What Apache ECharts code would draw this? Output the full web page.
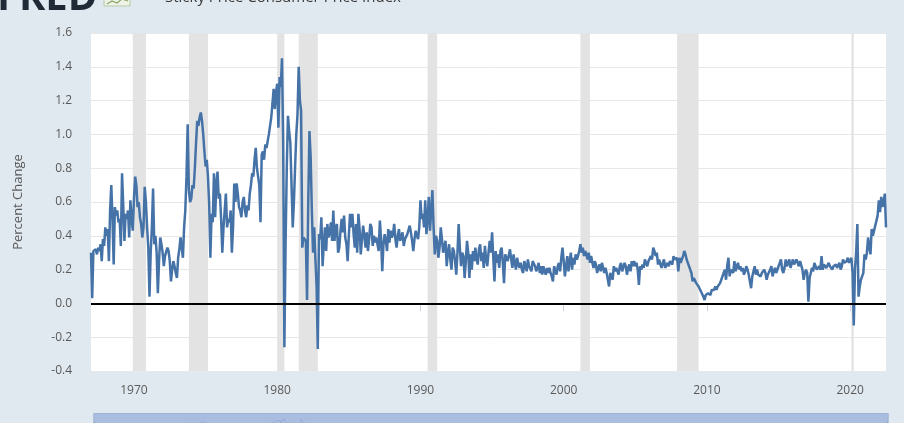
<!DOCTYPE html>
<html>
<head>
<meta charset="utf-8">
<script src="https://cdn.jsdelivr.net/npm/echarts@6/dist/echarts.min.js"></script>
<style>
html,body{margin:0;padding:0;background:#e1e9f0;}
#chart{width:904px;height:423px;}
</style>
</head>
<body>
<div id="chart"></div>
<script>
// Monthly series, starting January 1967
const startYear = 1967;
const s1960s = [
  0.30, 0.03, 0.31, 0.30, 0.32, 0.29, 0.33, 0.31, 0.35, 0.25, 0.38, 0.34,
  0.45, 0.40, 0.44, 0.25, 0.55, 0.70, 0.50, 0.23, 0.57, 0.52, 0.55, 0.48,
  0.50, 0.34, 0.77, 0.58, 0.37, 0.53, 0.50, 0.55, 0.39, 0.61, 0.50, 0.43
];
const s1970s = [
  0.62, 0.75, 0.70, 0.57, 0.60, 0.51, 0.47, 0.39, 0.45, 0.69, 0.60, 0.45,
  0.33, 0.04, 0.30, 0.45, 0.68, 0.35, 0.40, 0.30, 0.06, 0.25, 0.39, 0.35,
  0.30, 0.22, 0.28, 0.27, 0.33, 0.31, 0.25, 0.13, 0.20, 0.25, 0.22, 0.18,
  0.15, 0.27, 0.32, 0.39, 0.33, 0.27, 0.45, 0.55, 0.75, 1.06, 0.67, 0.60,
  0.62, 0.70, 0.68, 0.80, 0.95, 1.08, 1.05, 1.10, 1.13, 1.08, 1.00, 0.90,
  0.81, 0.85, 0.75, 0.59, 0.27, 0.53, 0.48, 0.77, 0.51, 0.71, 0.78, 0.62,
  0.65, 0.50, 0.30, 0.45, 0.55, 0.65, 0.45, 0.50, 0.48, 0.55, 0.30, 0.45,
  0.71, 0.60, 0.71, 0.65, 0.57, 0.55, 0.51, 0.60, 0.63, 0.55, 0.51, 0.58,
  0.55, 0.65, 0.70, 0.77, 0.75, 0.85, 0.92, 0.80, 0.81, 0.70, 0.48, 0.88,
  0.90, 0.85, 0.94, 0.92, 0.96, 1.00, 1.05, 1.10, 1.18, 1.27, 1.15, 1.25
];
const s1980s = [
  1.30, 1.04, 1.34, 1.28, 1.45, 0.95, -0.26, 0.35, 0.80, 1.11, 1.02, 0.95,
  0.70, 0.45, 0.60, 0.81, 1.00, 1.12, 1.40, 1.20, 1.14, 0.33, 0.39, 0.40,
  0.37, 0.02, 0.60, 1.02, 0.87, 0.55, 0.30, 0.45, 0.26, 0.10, -0.27, 0.41,
  0.38, 0.51, 0.22, 0.35, 0.45, 0.31, 0.47, 0.39, 0.42, 0.48, 0.37, 0.55,
  0.37, 0.45, 0.47, 0.30, 0.33, 0.43, 0.50, 0.42, 0.52, 0.39, 0.35, 0.25,
  0.40, 0.53, 0.45, 0.53, 0.41, 0.33, 0.47, 0.30, 0.53, 0.44, 0.29, 0.38,
  0.46, 0.40, 0.33, 0.42, 0.31, 0.38, 0.47, 0.45, 0.34, 0.40, 0.36, 0.39,
  0.35, 0.31, 0.49, 0.38, 0.19, 0.35, 0.41, 0.37, 0.31, 0.44, 0.36, 0.43,
  0.39, 0.41, 0.47, 0.38, 0.33, 0.40, 0.44, 0.37, 0.36, 0.42, 0.34, 0.38,
  0.37, 0.41, 0.40, 0.46, 0.42, 0.37, 0.31, 0.38, 0.43, 0.40, 0.38, 0.45
];
const s1990s = [
  0.61, 0.50, 0.53, 0.45, 0.61, 0.41, 0.50, 0.63, 0.43, 0.55, 0.67, 0.45,
  0.29, 0.40, 0.37, 0.27, 0.33, 0.45, 0.38, 0.30, 0.29, 0.37, 0.22, 0.30,
  0.35, 0.26, 0.20, 0.33, 0.31, 0.25, 0.17, 0.30, 0.47, 0.33, 0.22, 0.30,
  0.28, 0.15, 0.25, 0.37, 0.30, 0.15, 0.29, 0.20, 0.31, 0.25, 0.33, 0.26,
  0.23, 0.32, 0.35, 0.25, 0.30, 0.21, 0.34, 0.26, 0.22, 0.30, 0.37, 0.30,
  0.42, 0.27, 0.13, 0.31, 0.24, 0.29, 0.21, 0.31, 0.33, 0.24, 0.12, 0.29,
  0.30, 0.25, 0.24, 0.32, 0.26, 0.21, 0.29, 0.24, 0.20, 0.27, 0.23, 0.21,
  0.24, 0.20, 0.18, 0.25, 0.22, 0.19, 0.26, 0.22, 0.21, 0.19, 0.25, 0.24,
  0.22, 0.19, 0.21, 0.24, 0.18, 0.22, 0.17, 0.22, 0.19, 0.17, 0.21, 0.18,
  0.21, 0.18, 0.16, 0.13, 0.22, 0.19, 0.17, 0.22, 0.24, 0.19, 0.27, 0.33
];
const s2000s = [
  0.25, 0.16, 0.22, 0.28, 0.19, 0.25, 0.30, 0.20, 0.27, 0.23, 0.29, 0.26,
  0.28, 0.31, 0.35, 0.30, 0.33, 0.28, 0.31, 0.29, 0.26, 0.30, 0.24, 0.28,
  0.24, 0.21, 0.25, 0.23, 0.18, 0.21, 0.23, 0.19, 0.24, 0.21, 0.18, 0.21,
  0.18, 0.14, 0.10, 0.18, 0.16, 0.14, 0.22, 0.19, 0.21, 0.20, 0.17, 0.22,
  0.24, 0.19, 0.18, 0.24, 0.22, 0.17, 0.21, 0.23, 0.19, 0.25, 0.22, 0.25,
  0.22, 0.24, 0.20, 0.11, 0.22, 0.20, 0.23, 0.21, 0.26, 0.24, 0.22, 0.25,
  0.25, 0.28, 0.26, 0.33, 0.31, 0.28, 0.30, 0.23, 0.26, 0.23, 0.21, 0.24,
  0.26, 0.21, 0.20, 0.24, 0.22, 0.25, 0.26, 0.23, 0.28, 0.26, 0.25, 0.27,
  0.19, 0.27, 0.24, 0.25, 0.28, 0.31, 0.29, 0.26, 0.24, 0.22, 0.20, 0.18,
  0.13, 0.15, 0.14, 0.12, 0.11, 0.10, 0.09, 0.07, 0.06, 0.04, 0.02, 0.05
];
const s2010s = [
  0.05, 0.06, 0.07, 0.05, 0.08, 0.07, 0.08, 0.10, 0.08, 0.10, 0.09, 0.12,
  0.14, 0.16, 0.18, 0.20, 0.14, 0.22, 0.27, 0.16, 0.20, 0.21, 0.18, 0.25,
  0.19, 0.22, 0.24, 0.20, 0.22, 0.19, 0.21, 0.17, 0.19, 0.22, 0.20, 0.17,
  0.17, 0.09, 0.16, 0.19, 0.22, 0.17, 0.20, 0.17, 0.18, 0.16, 0.18, 0.17,
  0.20, 0.18, 0.14, 0.17, 0.18, 0.20, 0.22, 0.16, 0.19, 0.21, 0.18, 0.19,
  0.22, 0.24, 0.26, 0.20, 0.18, 0.21, 0.26, 0.22, 0.24, 0.26, 0.21, 0.20,
  0.26, 0.23, 0.22, 0.26, 0.24, 0.22, 0.25, 0.26, 0.20, 0.14, 0.18, 0.20,
  0.18, 0.01, 0.15, 0.18, 0.21, 0.19, 0.24, 0.22, 0.20, 0.21, 0.22, 0.20,
  0.28, 0.20, 0.23, 0.22, 0.21, 0.20, 0.24, 0.22, 0.21, 0.20, 0.22, 0.21,
  0.23, 0.21, 0.22, 0.24, 0.20, 0.22, 0.26, 0.24, 0.23, 0.25, 0.27, 0.24
];
const s2020s = [
  0.25, 0.27, 0.18, -0.13, 0.20, 0.30, 0.47, 0.04, 0.10, 0.14, 0.16, 0.18,
  0.29, 0.26, 0.30, 0.39, 0.33, 0.29, 0.44, 0.40, 0.43, 0.46, 0.49, 0.52,
  0.61, 0.54, 0.63, 0.57, 0.60, 0.65, 0.45
];
const xTickYears = [1970, 1980, 1990, 2000, 2010, 2020];
const recessionStarts = ['1969-12', '1973-11', '1980-01', '1981-07', '1990-07', '2001-03', '2007-12', '2020-02'];
const recessionEnds   = ['1970-11', '1975-03', '1980-07', '1982-11', '1991-03', '2001-11', '2009-06', '2020-04'];
const titleText = 'Sticky Price Consumer Price Index';
const yAxisTitle = 'Percent Change';

const values = [].concat(s1960s, s1970s, s1980s, s1990s, s2000s, s2010s, s2020s);
const dates = values.map((_, i) => {
  const y = startYear + Math.floor(i / 12);
  const m = (i % 12) + 1;
  return y + '-' + (m < 10 ? '0' + m : m);
});
const isDecadeTick = (idx, val) => {
  const parts = val.split('-');
  return parts[1] === '01' && xTickYears.indexOf(+parts[0]) >= 0;
};

const chart = echarts.init(document.getElementById('chart'), null, {renderer: 'canvas'});
chart.setOption({
  backgroundColor: '#e1e9f0',
  animation: false,
  graphic: [
    {type: 'text', left: -3, top: -21, style: {text: 'FRED', font: 'bold 40px "Open Sans", "DejaVu Sans", sans-serif', fill: '#1f2a36'}},
    {type: 'rect', shape: {x: 104, y: -8, width: 26, height: 14}, style: {fill: '#eef3e6', stroke: '#b9c9a8', lineWidth: 1}},
    {type: 'polyline', shape: {points: [[107, 4], [112, 1], [117, 3], [122, -1], [128, 1]]}, style: {stroke: '#8aa66a', lineWidth: 1.2, fill: null}},
    {type: 'text', left: 165, top: -10, style: {text: titleText, font: '15px "Open Sans", sans-serif', fill: '#3a3a3a'}}
  ],
  grid: {left: 91, right: 18, top: 33, bottom: 52, show: true, backgroundColor: '#ffffff', borderWidth: 0},
  xAxis: {
    type: 'category',
    data: dates,
    boundaryGap: false,
    axisLine: {show: false},
    axisTick: {show: true, interval: isDecadeTick, length: 8, lineStyle: {color: '#cfd6dd', width: 1}},
    axisLabel: {
      interval: isDecadeTick,
      formatter: v => v.split('-')[0],
      margin: 14,
      color: '#595959',
      fontSize: 12,
      fontFamily: '"Open Sans", sans-serif'
    },
    splitLine: {show: false}
  },
  yAxis: {
    type: 'value',
    min: -0.4,
    max: 1.6,
    interval: 0.2,
    name: yAxisTitle,
    nameLocation: 'middle',
    nameGap: 66,
    nameTextStyle: {color: '#595959', fontSize: 13, fontFamily: '"Open Sans", sans-serif'},
    axisLine: {show: false},
    axisTick: {show: false},
    axisLabel: {
      margin: 19,
      color: '#595959',
      fontSize: 12,
      fontFamily: '"Open Sans", sans-serif',
      formatter: v => (Math.abs(v) < 1e-9 ? 0 : v).toFixed(1)
    },
    splitLine: {show: true, lineStyle: {color: '#e8e8e8', width: 1}}
  },
  dataZoom: [{
    type: 'slider',
    xAxisIndex: 0,
    start: 0,
    end: 100,
    left: 91,
    right: 18,
    top: 413,
    height: 30,
    showDetail: false,
    borderColor: '#9fb3d2',
    backgroundColor: '#b3c5e3',
    fillerColor: 'rgba(150,175,215,0.35)',
    dataBackground: {lineStyle: {color: '#5a7fbb', width: 1}, areaStyle: {color: '#6a8cc4', opacity: 1}},
    handleSize: 12,
    handleStyle: {color: '#ffffff', borderColor: '#8899aa'},
    moveHandleSize: 0
  }],
  series: [{
    type: 'line',
    data: values,
    symbol: 'none',
    lineStyle: {color: '#4572a7', width: 2.5},
    itemStyle: {color: '#4572a7'},
    markArea: {
      silent: true,
      itemStyle: {color: '#e3e3e3'},
      data: recessionStarts.map((s, i) => [{xAxis: s}, {xAxis: recessionEnds[i]}])
    },
    markLine: {
      silent: true,
      symbol: 'none',
      label: {show: false},
      lineStyle: {color: '#000000', width: 2, type: 'solid'},
      data: [{yAxis: 0}]
    },
    z: 3
  }]
});
</script>
</body>
</html>
